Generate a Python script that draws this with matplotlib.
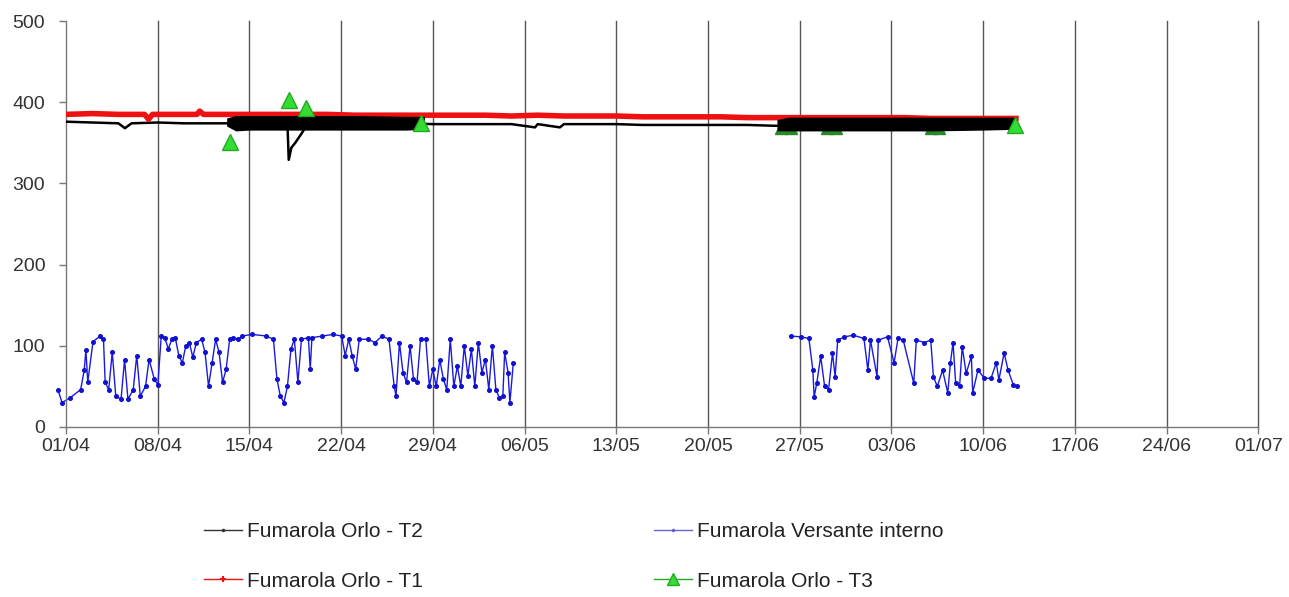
import numpy as np
import matplotlib
matplotlib.use('Agg')
import matplotlib.pyplot as plt
from matplotlib.lines import Line2D

plt.rcParams['font.family'] = ['Liberation Sans', 'DejaVu Sans']

# x values are days counted from 01/04
tick_days = [0, 7, 14, 21, 28, 35, 42, 49, 56, 63, 70, 77, 84, 91]
tick_labels = ['01/04', '08/04', '15/04', '22/04', '29/04', '06/05', '13/05',
               '20/05', '27/05', '03/06', '10/06', '17/06', '24/06', '01/07']

# Fumarola Versante interno (blue), two pieces with a gap
blue_days = [-0.6, -0.3, 0.32, 1.12, 1.39, 1.52, 1.66, 2.06, 2.59, 2.86, 2.99, 3.26, 3.53,
             3.80, 4.20, 4.47, 4.73, 5.13, 5.40, 5.67, 6.07, 6.34, 6.74, 7.01, 7.27,
             7.54, 7.81, 8.07, 8.34, 8.61, 8.88, 9.14, 9.41, 9.68, 9.95, 10.35, 10.61,
             10.88, 11.15, 11.42, 11.68, 11.95, 12.22, 12.49, 12.75, 13.16, 13.42,
             14.22, 15.29, 15.83, 16.10, 16.36, 16.63, 16.90, 17.17, 17.43, 17.70,
             17.97, 18.50, 18.64, 18.77, 19.57, 20.37, 21.04, 21.31, 21.58, 21.84,
             22.11, 22.38, 23.05, 23.58, 24.12, 24.65, 25.05, 25.19, 25.45, 25.72,
             25.99, 26.26, 26.52, 26.79, 27.06, 27.46, 27.73, 27.99, 28.26, 28.53,
             28.80, 29.06, 29.33, 29.60, 29.87, 30.13, 30.40, 30.67, 30.94, 31.20,
             31.47, 31.74, 32.01, 32.27, 32.54, 32.81, 33.07, 33.34, 33.48, 33.74,
             33.88, 34.14,
             np.nan,
             55.3, 56.1, 56.7, 57.0, 57.1, 57.3, 57.6, 57.9, 58.2, 58.5, 58.7, 58.9,
             59.4, 60.1, 60.9, 61.2, 61.4, 61.9, 62.0, 62.7, 63.2, 63.5, 63.9, 64.7,
             64.9, 65.5, 66.0, 66.2, 66.5, 66.9, 67.3, 67.5, 67.7, 67.9, 68.2, 68.4,
             68.7, 69.1, 69.2, 69.6, 70.1, 70.6, 71.0, 71.2, 71.6, 71.9, 72.3, 72.6]
blue_vals = [45, 30, 36, 46, 70, 95, 55, 105, 112, 108, 55, 46, 92,
             38, 34, 83, 34, 46, 88, 38, 50, 83, 59, 52, 112,
             110, 96, 108, 110, 88, 79, 100, 104, 86, 104, 108, 92,
             50, 79, 108, 92, 55, 71, 108, 110, 108, 112,
             114, 112, 108, 59, 38, 30, 50, 96, 108, 55,
             108, 110, 71, 110, 112, 114, 112, 88, 108, 88,
             71, 108, 108, 104, 112, 108, 50, 38, 104, 67,
             55, 100, 59, 55, 108, 108, 50, 71, 50, 83,
             59, 46, 108, 50, 75, 50, 100, 63, 96, 50,
             104, 67, 83, 46, 100, 46, 36, 38, 92, 67,
             30, 79,
             np.nan,
             112, 111, 109, 70, 37, 54, 87, 50, 46, 91, 62, 107,
             111, 113, 109, 70, 107, 62, 107, 111, 79, 109, 107, 54,
             107, 104, 107, 62, 50, 70, 42, 79, 104, 54, 50, 99,
             66, 87, 42, 70, 60, 60, 79, 58, 91, 70, 52, 50]

# Fumarola Orlo - T1 (red)
t1_days = [0, 2, 4, 6, 6.3, 6.6, 8, 10, 10.2, 10.5, 12, 14, 16, 18, 20, 22, 24, 26, 28,
           30, 32, 34, 36, 38, 40, 42, 44, 46, 48, 50, 52, 54, 56, 58, 60, 62, 64,
           66, 68, 70, 72.5]
t1_vals = [385, 386, 385, 385, 379, 385, 385, 385, 389, 385, 385, 385, 385, 385, 385,
           384, 384, 384, 384, 384, 384, 383, 384, 383, 383, 383, 382, 382, 382, 382,
           381, 381, 381, 381, 381, 381, 381, 380, 380, 380, 380]

# Fumarola Orlo - T2 (black)
t2_days = [0, 2, 4, 4.5, 5, 7, 9, 11, 13, 15, 16.9, 17.0, 17.2, 17.5, 18.0, 18.5, 20,
           22, 24, 26, 28, 30, 32, 34, 35.8, 36, 37.7, 38, 40, 42, 44, 46, 48, 50, 52,
           54, 56, 58, 60, 62, 64, 66, 68, 70, 72.5]
t2_vals = [376, 375, 374, 368, 374, 375, 374, 374, 374, 374, 374, 329, 344, 350, 362,
           375, 375, 374, 374, 374, 373, 373, 373, 373, 369, 373, 369, 373, 373, 373,
           372, 372, 372, 372, 372, 371, 371, 371, 371, 371, 371, 371, 371, 371, 371]

# Fumarola Orlo - T3: dense readings drawn as their min/max band
t3_band_days = [12.3, 13.0, 14, 18, 22, 26, 27.4, np.nan,
                54.3, 55.2, 58, 62, 66, 70, 72.5]
t3_band_lo = [370, 364, 365, 365, 365, 365, 366, np.nan,
              364, 364, 364, 364, 364, 365, 366]
t3_band_hi = [380, 383, 383, 383, 383, 382, 382, np.nan,
              378, 381, 381, 381, 381, 381, 381]
t3_mark_days = [12.5, 17.0, 18.3, 27.1, 72.4]
t3_mark_vals = [351, 403, 393, 374, 372]
# readings hidden behind the band, only their lower edge shows
t3_low_days = [54.6, 55.3, 58.1, 58.8, 66.0, 66.6]
t3_low_vals = [368, 368, 368, 368, 368, 368]

fig = plt.figure(figsize=(12.89, 5.97), dpi=100)
ax = fig.add_axes([0.0512, 0.2848, 0.925, 0.680])

for d in tick_days[1:]:
    ax.axvline(d, color='#555555', lw=1.0, zorder=0, clip_on=False)

ax.plot(blue_days, blue_vals, color='#1a1adf', lw=1.0, marker='o', ms=2.6,
        mec='#1010d0', mfc='#1010d0', zorder=2, clip_on=False)
ax.plot(t2_days, t2_vals, color='black', lw=1.8, zorder=3)
ax.plot(t1_days, t1_vals, color='#ee1111', lw=4.0, zorder=4)
ax.plot(t3_low_days, t3_low_vals, ls='none', marker='^', ms=9,
        mfc='#2a8a2a', mec='#2a8a2a', zorder=4.5)
ax.fill_between(t3_band_days, t3_band_lo, t3_band_hi, color='black', lw=0, zorder=5)
ax.plot(t3_mark_days, t3_mark_vals, ls='none', marker='^', ms=11,
        mfc='#33dd33', mec='#22aa22', zorder=6)

ax.set_xlim(0, 91)
ax.set_ylim(0, 500)
ax.set_xticks(tick_days)
ax.set_xticklabels(tick_labels)
ax.set_yticks([0, 100, 200, 300, 400, 500])
ax.tick_params(axis='both', direction='out', length=5, width=1, colors='#777777',
               labelcolor='#333333', labelsize=14)
ax.tick_params(axis='y', pad=10)
ax.tick_params(axis='x', pad=3)
for s in ['top', 'right']:
    ax.spines[s].set_visible(False)
for s in ['left', 'bottom']:
    ax.spines[s].set_color('#777777')
    ax.spines[s].set_linewidth(1)

handles = [
    Line2D([], [], color='#333333', lw=1, marker='.', ms=3),
    Line2D([], [], color='#ee1111', lw=1, marker='+', ms=5, mew=1.5),
    Line2D([], [], color='#6666cc', lw=1, marker='.', ms=3, mfc='#1010d0'),
    Line2D([], [], color='#22aa22', lw=1, marker='^', ms=9, mfc='#33dd33', mec='#22aa22'),
]
labels = ['Fumarola Orlo - T2', 'Fumarola Orlo - T1',
          'Fumarola Versante interno', 'Fumarola Orlo - T3']
fig.legend(handles, labels, ncol=2, loc='center left', bbox_to_anchor=(0.144, 0.068),
           frameon=False, fontsize=15, handlelength=1.8, handletextpad=0.25,
           columnspacing=11.1, labelspacing=1.45, labelcolor='#222222')

fig.savefig('out.png', dpi=100)
